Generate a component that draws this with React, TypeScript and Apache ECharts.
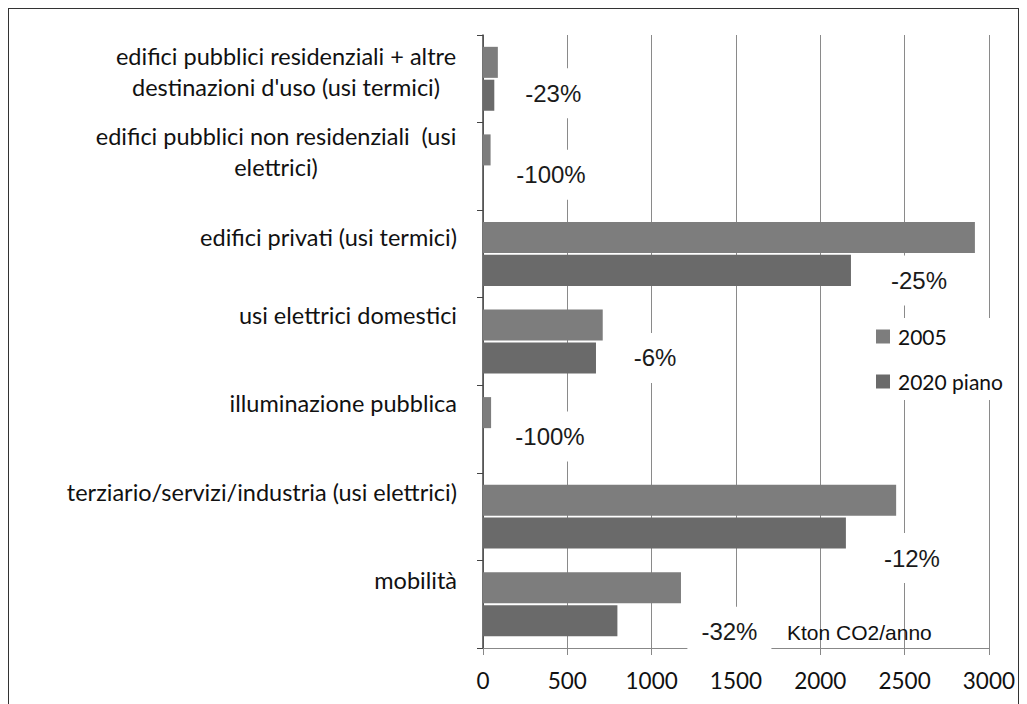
import React, { useEffect, useRef } from "react";
import * as echarts from "echarts";

// ---- data ----
const categories = [
  "edifici pubblici residenziali + altre destinazioni d'uso (usi termici)",
  "edifici pubblici non residenziali  (usi elettrici)",
  "edifici privati (usi termici)",
  "usi elettrici domestici",
  "illuminazione pubblica",
  "terziario/servizi/industria (usi elettrici)",
  "mobilità",
];
const categoryLines: string[][] = [
  ["edifici pubblici residenziali + altre", "destinazioni d'uso (usi termici)"],
  ["edifici pubblici non residenziali  (usi", "elettrici)"],
  ["edifici privati (usi termici)"],
  ["usi elettrici domestici"],
  ["illuminazione pubblica"],
  ["terziario/servizi/industria (usi elettrici)"],
  ["mobilità"],
];
const seriesNames = ["2005", "2020 piano"];
const values2005 = [88, 45, 2917, 710, 48, 2450, 1174];
const values2020 = [67, 0, 2182, 670, 0, 2152, 797];
const changeLabels = ["-23%", "-100%", "-25%", "-6%", "-100%", "-12%", "-32%"];
const xMin = 0;
const xMax = 3000;
const xInterval = 500;
const unitLabel = "Kton CO2/anno";

// ---- layout / style (not data) ----
const labelShiftY = [-7, -15, -17, -27, -26, -25, -24];
const changeOffsets: [number, number][] = [
  [59, -2],
  [68, -8],
  [68, 10],
  [59, 0],
  [67, -9],
  [66, 25],
  [112, 11],
];
const LABEL_FONT = "Lato";
const LABEL_SIZE = 23.5;
const colors = ["#7d7d7d", "#6a6a6a"];

function measure(text: string, size: number, family: string) {
  const c = document.createElement("canvas");
  const ctx = c.getContext("2d");
  if (!ctx) return text.length * size * 0.5;
  ctx.font = `${size}px ${family}`;
  return ctx.measureText(text).width;
}

export default function App() {
  const ref = useRef<HTMLDivElement>(null);

  useEffect(() => {
    if (!ref.current) return;
    const chart = echarts.init(ref.current, undefined, { renderer: "svg" });

    const rich: Record<string, any> = {};
    categoryLines.forEach((lines, i) => {
      const w = Math.max(...lines.map((l) => measure(l, LABEL_SIZE, LABEL_FONT)));
      rich["c" + i] = {
        width: Math.ceil(w) + 1,
        align: "center",
        fontFamily: LABEL_FONT,
        fontSize: LABEL_SIZE,
        lineHeight: 31,
        color: "#111",
      };
    });

    const yData = categories.map((c, i) => ({
      value: c,
      textStyle: { padding: [0, 0, -2 * labelShiftY[i], 0] },
    }));

    const option: echarts.EChartsOption = {
      animation: false,
      backgroundColor: "#ffffff",
      grid: { left: 474, right: 25, top: 26, bottom: 56, containLabel: false },
      legend: {
        orient: "vertical",
        left: 857,
        top: 309,
        itemWidth: 14,
        itemHeight: 14,
        itemGap: 24,
        icon: "rect",
        backgroundColor: "#ffffff",
        padding: [8, 12, 8, 10],
        data: seriesNames,
        textStyle: {
          fontFamily: LABEL_FONT,
          fontSize: 21,
          color: "#111",
          padding: [0, 0, 0, 3],
        },
      },
      xAxis: {
        type: "value",
        min: xMin,
        max: xMax,
        interval: xInterval,
        axisLine: { show: true, lineStyle: { color: "#888", width: 1 } },
        axisTick: { show: true, length: 7, lineStyle: { color: "#888" } },
        splitLine: { show: true, lineStyle: { color: "#8a8a8a", width: 1 } },
        axisLabel: {
          fontFamily: LABEL_FONT,
          fontSize: 22.5,
          color: "#111",
          margin: 21,
          formatter: (v: number) => String(v),
        },
      },
      yAxis: {
        type: "category",
        inverse: true,
        data: yData as any,
        axisLine: { show: true, lineStyle: { color: "#444", width: 1.5 } },
        axisTick: { show: true, length: 6, lineStyle: { color: "#444" } },
        splitLine: { show: false },
        axisLabel: {
          margin: 26,
          fontFamily: LABEL_FONT,
          fontSize: LABEL_SIZE,
          color: "#111",
          lineHeight: 31,
          rich,
          formatter: (_v: string, idx: number) => {
            const lines = categoryLines[idx];
            if (lines.length === 1) return lines[0];
            return lines.map((l) => `{c${idx}|${l}}`).join("\n");
          },
        },
      },
      series: [
        {
          name: seriesNames[0],
          type: "bar",
          data: values2005,
          barGap: "6%",
          barCategoryGap: "27%",
          itemStyle: { color: colors[0] },
          silent: true,
        },
        {
          name: seriesNames[1],
          type: "bar",
          data: values2020.map((v, i) => ({
            value: v,
            label: {
              show: true,
              formatter: changeLabels[i],
              offset: changeOffsets[i],
            },
          })),
          itemStyle: { color: colors[1] },
          silent: true,
          label: {
            show: true,
            position: "right",
            distance: 0,
            align: "center",
            verticalAlign: "middle",
            fontFamily: "Liberation Sans",
            fontSize: 24,
            color: "#1a1a1a",
            backgroundColor: "#ffffff",
            padding: [13, 14],
          },
          z: 3,
        },
      ],
      graphic: [
        {
          type: "text",
          x: 778,
          y: 623,
          z: 10,
          style: {
            text: unitLabel,
            fontFamily: "Liberation Sans",
            fontSize: 21,
            fill: "#111",
            verticalAlign: "middle",
          },
        },
      ],
    };

    chart.setOption(option);
    return () => chart.dispose();
  }, []);

  return (
    <div
      style={{
        width: 1011,
        height: 696,
        boxSizing: "border-box",
        borderLeft: "1px solid #333",
        borderTop: "1px solid #333",
        borderRight: "1px solid #333",
        background: "#fff",
      }}
    >
      <div ref={ref} style={{ width: 1009, height: 695 }} />
    </div>
  );
}
